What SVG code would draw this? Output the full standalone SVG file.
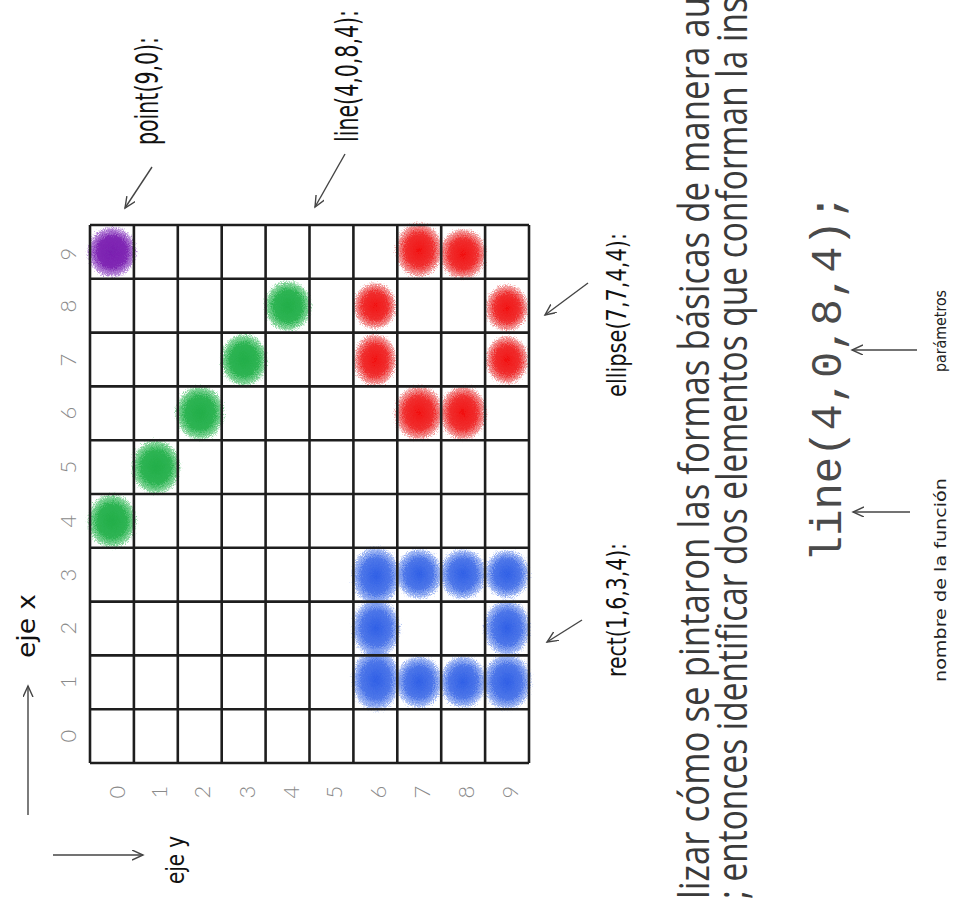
<svg xmlns="http://www.w3.org/2000/svg" width="957" height="900" viewBox="0 0 957 900">
<style>
.grid line{stroke:#1e1e1e;stroke-width:2.6}
.lbl{font-family:"Liberation Sans Narrow","DejaVu Sans Condensed",sans-serif;fill:#111}
.dig{font-family:Lato,"DejaVu Sans",sans-serif;font-weight:300;font-size:22px;fill:#8a8a8a;text-anchor:middle;dominant-baseline:central}
.main{font-family:"Open Sans","Liberation Sans",sans-serif;font-size:42px;fill:#3a3a3a}
.code{font-family:"Liberation Mono","Courier New",monospace;font-size:44px;fill:#4a4a4a}
.small{font-family:"Liberation Sans Narrow","DejaVu Sans Condensed",sans-serif;font-size:15px;fill:#222}
.arr{stroke:#444;stroke-width:1.4;fill:none;marker-end:url(#ah)}
</style>
<defs>
<marker id="ah" markerUnits="userSpaceOnUse" markerWidth="14" markerHeight="12" refX="11" refY="5" orient="auto">
<path d="M0,0 L11,5 L0,10" fill="none" stroke="#444" stroke-width="1.4"/>
</marker>
<filter id="spray" x="-40%" y="-40%" width="180%" height="180%">
<feTurbulence type="fractalNoise" baseFrequency="1.1" numOctaves="2" seed="5" result="n"/>
<feDisplacementMap in="SourceGraphic" in2="n" scale="9" xChannelSelector="R" yChannelSelector="G"/>
</filter>
<radialGradient id="gP"><stop offset="0" stop-color="#7a1fb0"/><stop offset="0.6" stop-color="#7a1fb0" stop-opacity="0.95"/><stop offset="0.88" stop-color="#8a3cc0" stop-opacity="0.6"/><stop offset="1" stop-color="#9a5ad0" stop-opacity="0"/></radialGradient>
<radialGradient id="gG"><stop offset="0" stop-color="#1fae48"/><stop offset="0.6" stop-color="#22b04a" stop-opacity="0.95"/><stop offset="0.88" stop-color="#3cbc5e" stop-opacity="0.6"/><stop offset="1" stop-color="#5cc878" stop-opacity="0"/></radialGradient>
<radialGradient id="gR"><stop offset="0" stop-color="#f21010"/><stop offset="0.6" stop-color="#ee1c1c" stop-opacity="0.9"/><stop offset="0.88" stop-color="#e84848" stop-opacity="0.55"/><stop offset="1" stop-color="#e87070" stop-opacity="0"/></radialGradient>
<radialGradient id="gB"><stop offset="0" stop-color="#2f5fe6"/><stop offset="0.6" stop-color="#3a68e6" stop-opacity="0.9"/><stop offset="0.88" stop-color="#5a82ea" stop-opacity="0.55"/><stop offset="1" stop-color="#8aa6f0" stop-opacity="0"/></radialGradient>
</defs>
<rect width="957" height="900" fill="#fff"/>

<g id="dots" filter="url(#spray)">
<g id="point">
<ellipse cx="112" cy="252" rx="25" ry="26" fill="url(#gP)"/>
</g>
<g id="line-dots">
<ellipse cx="112" cy="521" rx="25" ry="28" fill="url(#gG)"/>
<ellipse cx="156" cy="467" rx="25" ry="28" fill="url(#gG)"/>
<ellipse cx="200" cy="413" rx="25" ry="28" fill="url(#gG)"/>
<ellipse cx="244" cy="360" rx="24" ry="27" fill="url(#gG)"/>
<ellipse cx="288" cy="306" rx="24" ry="26" fill="url(#gG)"/>
</g>
<g id="ellipse-dots">
<ellipse cx="419" cy="250" rx="24" ry="28" fill="url(#gR)"/>
<ellipse cx="463" cy="254" rx="24" ry="26" fill="url(#gR)"/>
<ellipse cx="375" cy="306" rx="22" ry="24" fill="url(#gR)"/>
<ellipse cx="507" cy="308" rx="22" ry="24" fill="url(#gR)"/>
<ellipse cx="375" cy="360" rx="22" ry="27" fill="url(#gR)"/>
<ellipse cx="507" cy="360" rx="22" ry="25" fill="url(#gR)"/>
<ellipse cx="419" cy="413" rx="25" ry="28" fill="url(#gR)"/>
<ellipse cx="463" cy="413" rx="24" ry="28" fill="url(#gR)"/>
</g>
<g id="rect-dots">
<ellipse cx="376" cy="576" rx="25" ry="30" fill="url(#gB)"/>
<ellipse cx="376" cy="628" rx="25" ry="30" fill="url(#gB)"/>
<ellipse cx="376" cy="680" rx="25" ry="32" fill="url(#gB)"/>
<ellipse cx="419" cy="574" rx="24" ry="26" fill="url(#gB)"/>
<ellipse cx="463" cy="574" rx="24" ry="26" fill="url(#gB)"/>
<ellipse cx="507" cy="574" rx="23" ry="25" fill="url(#gB)"/>
<ellipse cx="507" cy="628" rx="24" ry="29" fill="url(#gB)"/>
<ellipse cx="419" cy="682" rx="24" ry="27" fill="url(#gB)"/>
<ellipse cx="463" cy="682" rx="24" ry="27" fill="url(#gB)"/>
<ellipse cx="507" cy="682" rx="25" ry="29" fill="url(#gB)"/>
</g>
</g>

<g id="grid" class="grid">
<line x1="90" y1="225" x2="90" y2="763"/>
<line x1="133.9" y1="225" x2="133.9" y2="763"/>
<line x1="177.8" y1="225" x2="177.8" y2="763"/>
<line x1="221.7" y1="225" x2="221.7" y2="763"/>
<line x1="265.6" y1="225" x2="265.6" y2="763"/>
<line x1="309.5" y1="225" x2="309.5" y2="763"/>
<line x1="353.4" y1="225" x2="353.4" y2="763"/>
<line x1="397.3" y1="225" x2="397.3" y2="763"/>
<line x1="441.2" y1="225" x2="441.2" y2="763"/>
<line x1="485.1" y1="225" x2="485.1" y2="763"/>
<line x1="529" y1="225" x2="529" y2="763"/>
<line x1="90" y1="225" x2="529" y2="225"/>
<line x1="90" y1="278.8" x2="529" y2="278.8"/>
<line x1="90" y1="332.6" x2="529" y2="332.6"/>
<line x1="90" y1="386.4" x2="529" y2="386.4"/>
<line x1="90" y1="440.2" x2="529" y2="440.2"/>
<line x1="90" y1="494" x2="529" y2="494"/>
<line x1="90" y1="547.8" x2="529" y2="547.8"/>
<line x1="90" y1="601.6" x2="529" y2="601.6"/>
<line x1="90" y1="655.4" x2="529" y2="655.4"/>
<line x1="90" y1="709.2" x2="529" y2="709.2"/>
<line x1="90" y1="763" x2="529" y2="763"/>
</g>

<g id="axis-x-labels">
<text class="dig" transform="translate(67,736) rotate(-90)">0</text>
<text class="dig" transform="translate(67,682) rotate(-90)">1</text>
<text class="dig" transform="translate(67,628) rotate(-90)">2</text>
<text class="dig" transform="translate(67,575) rotate(-90)">3</text>
<text class="dig" transform="translate(67,521) rotate(-90)">4</text>
<text class="dig" transform="translate(67,467) rotate(-90)">5</text>
<text class="dig" transform="translate(67,413) rotate(-90)">6</text>
<text class="dig" transform="translate(67,360) rotate(-90)">7</text>
<text class="dig" transform="translate(67,306) rotate(-90)">8</text>
<text class="dig" transform="translate(67,254) rotate(-90)">9</text>
</g>
<g id="axis-y-labels">
<text class="dig" transform="translate(116,792) rotate(-90)">0</text>
<text class="dig" transform="translate(158,792) rotate(-90)">1</text>
<text class="dig" transform="translate(201,792) rotate(-90)">2</text>
<text class="dig" transform="translate(246,792) rotate(-90)">3</text>
<text class="dig" transform="translate(290,792) rotate(-90)">4</text>
<text class="dig" transform="translate(333,792) rotate(-90)">5</text>
<text class="dig" transform="translate(377,792) rotate(-90)">6</text>
<text class="dig" transform="translate(421,792) rotate(-90)">7</text>
<text class="dig" transform="translate(465,792) rotate(-90)">8</text>
<text class="dig" transform="translate(509,792) rotate(-90)">9</text>
</g>

<g id="label-eje-x"><text class="lbl" font-size="24" transform="translate(35,658) rotate(-90)" textLength="64" lengthAdjust="spacingAndGlyphs">eje x</text></g>
<g id="label-eje-y"><text class="lbl" font-size="24" transform="translate(184,884) rotate(-90)" textLength="48" lengthAdjust="spacingAndGlyphs">eje y</text></g>
<g id="label-point"><text class="lbl" font-size="32" transform="translate(158,145) rotate(-90)" textLength="108" lengthAdjust="spacingAndGlyphs">point(9,0):</text></g>
<g id="label-line"><text class="lbl" font-size="32" transform="translate(358,142) rotate(-90)" textLength="132" lengthAdjust="spacingAndGlyphs">line(4,0,8,4):</text></g>
<g id="label-ellipse"><text class="lbl" font-size="27" transform="translate(626,397) rotate(-90)" textLength="164" lengthAdjust="spacingAndGlyphs">ellipse(7,7,4,4):</text></g>
<g id="label-rect"><text class="lbl" font-size="27" transform="translate(626,677) rotate(-90)" textLength="134" lengthAdjust="spacingAndGlyphs">rect(1,6,3,4):</text></g>

<g id="main-text">
<text class="main" transform="translate(709,899) rotate(-90)" textLength="902" lengthAdjust="spacingAndGlyphs">lizar cómo se pintaron las formas básicas de manera au</text>
<text class="main" transform="translate(747,899) rotate(-90)" textLength="902" lengthAdjust="spacingAndGlyphs">; entonces identificar dos elementos que conforman la ins</text>
</g>
<g id="code"><text class="code" transform="translate(841,562) rotate(-90)" textLength="368" lengthAdjust="spacingAndGlyphs">line(4,0,8,4);</text></g>
<g id="label-nombre"><text class="small" transform="translate(946,682) rotate(-90)" textLength="204" lengthAdjust="spacingAndGlyphs">nombre de la función</text></g>
<g id="label-parametros"><text class="small" transform="translate(946,372) rotate(-90)" textLength="82" lengthAdjust="spacingAndGlyphs">parámetros</text></g>

<g id="connectors">
<line class="arr" x1="28" y1="815" x2="28" y2="686"/>
<line class="arr" x1="53" y1="855" x2="143" y2="855"/>
<line class="arr" x1="152" y1="167" x2="125" y2="208"/>
<line class="arr" x1="345" y1="154" x2="315" y2="207"/>
<line class="arr" x1="588" y1="283" x2="545" y2="315"/>
<line class="arr" x1="582" y1="620" x2="547" y2="642"/>
<line class="arr" x1="910" y1="512" x2="853" y2="512"/>
<line class="arr" x1="917" y1="350" x2="852" y2="350"/>
</g>
</svg>
